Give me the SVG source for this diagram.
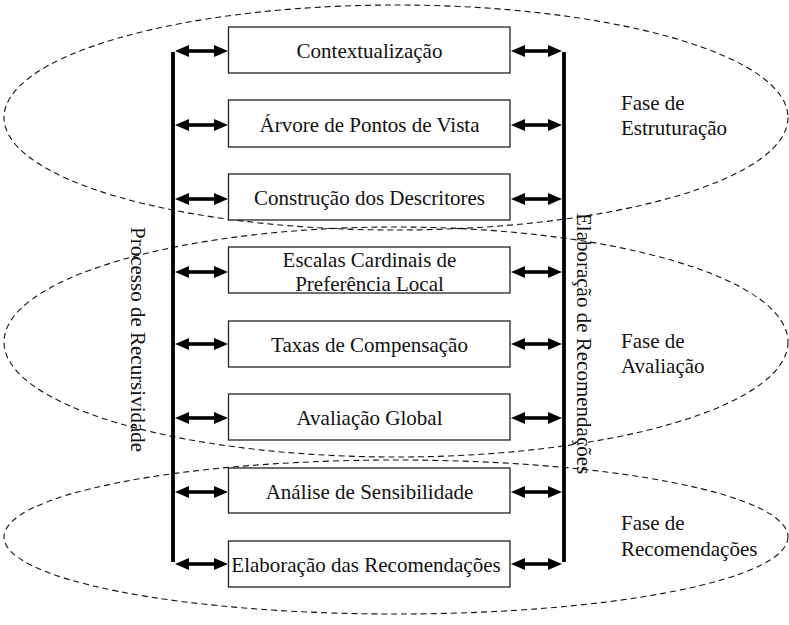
<svg xmlns="http://www.w3.org/2000/svg" width="789" height="625" viewBox="0 0 789 625">
  <style>
    .phase { fill: none; stroke: #111; stroke-width: 1.1; stroke-dasharray: 6 4; }
    .box { fill: #fff; stroke: #222; stroke-width: 1.3; }
    .txt { font-family: "Liberation Serif", "Times New Roman", serif; font-size: 21px; fill: #111; }
    .mid { text-anchor: middle; }
    .rail { stroke: #000; stroke-width: 3.8; }
    .arw { stroke: #000; stroke-width: 3.6; marker-start: url(#head); marker-end: url(#head); }
  </style>
  <defs>
    <marker id="head" markerUnits="userSpaceOnUse" markerWidth="15" markerHeight="14" viewBox="0 -7 15 14" refX="0" refY="0" orient="auto-start-reverse">
      <path d="M0,-6 L14,0 L0,6 Z" fill="#000"/>
    </marker>
  </defs>

  <!-- phase regions -->
  <g id="phases">
    <ellipse class="phase" cx="396" cy="117.5" rx="392" ry="112.5"/>
    <ellipse class="phase" cx="396" cy="342" rx="392" ry="115"/>
    <ellipse class="phase" cx="396" cy="537" rx="392" ry="77"/>
  </g>

  <!-- connectors: side rails and double-headed links -->
  <g id="connectors">
    <line class="rail" x1="173" y1="52" x2="173" y2="562"/>
    <line class="rail" x1="564" y1="52" x2="564" y2="562"/>
    <line class="arw" x1="189" y1="51" x2="214" y2="51"/>
    <line class="arw" x1="189" y1="125" x2="214" y2="125"/>
    <line class="arw" x1="189" y1="199" x2="214" y2="199"/>
    <line class="arw" x1="189" y1="272" x2="214" y2="272"/>
    <line class="arw" x1="189" y1="344" x2="214" y2="344"/>
    <line class="arw" x1="189" y1="418" x2="214" y2="418"/>
    <line class="arw" x1="189" y1="492" x2="214" y2="492"/>
    <line class="arw" x1="189" y1="564" x2="214" y2="564"/>
    <line class="arw" x1="525" y1="51" x2="548" y2="51"/>
    <line class="arw" x1="525" y1="125" x2="548" y2="125"/>
    <line class="arw" x1="525" y1="199" x2="548" y2="199"/>
    <line class="arw" x1="525" y1="272" x2="548" y2="272"/>
    <line class="arw" x1="525" y1="344" x2="548" y2="344"/>
    <line class="arw" x1="525" y1="418" x2="548" y2="418"/>
    <line class="arw" x1="525" y1="492" x2="548" y2="492"/>
    <line class="arw" x1="525" y1="564" x2="548" y2="564"/>
  </g>

  <!-- process steps -->
  <g id="contextualizacao">
    <rect class="box" x="228.5" y="27" width="281.5" height="46"/>
    <text class="txt mid" x="369.5" y="58">Contextualização</text>
  </g>
  <g id="arvore">
    <rect class="box" x="228.5" y="100" width="281.5" height="47"/>
    <text class="txt mid" x="369.5" y="131.5">Árvore de Pontos de Vista</text>
  </g>
  <g id="descritores">
    <rect class="box" x="228.5" y="174" width="281.5" height="46"/>
    <text class="txt mid" x="369.5" y="205">Construção dos Descritores</text>
  </g>
  <g id="escalas">
    <rect class="box" x="228.5" y="247" width="281.5" height="46"/>
    <text class="txt mid" x="369.5" y="267">Escalas Cardinais de</text>
    <text class="txt mid" x="369.5" y="291">Preferência Local</text>
  </g>
  <g id="taxas">
    <rect class="box" x="228.5" y="321" width="281.5" height="46"/>
    <text class="txt mid" x="369.5" y="352">Taxas de Compensação</text>
  </g>
  <g id="avaliacao-global">
    <rect class="box" x="228.5" y="394" width="281.5" height="46"/>
    <text class="txt mid" x="369.5" y="425">Avaliação Global</text>
  </g>
  <g id="sensibilidade">
    <rect class="box" x="228.5" y="468" width="281.5" height="45"/>
    <text class="txt mid" x="369.5" y="498.5">Análise de Sensibilidade</text>
  </g>
  <g id="recomendacoes">
    <rect class="box" x="228.5" y="541" width="281.5" height="46"/>
    <text class="txt mid" x="366" y="572">Elaboração das Recomendações</text>
  </g>

  <!-- rail labels -->
  <g id="recursividade">
    <text class="txt" transform="translate(131,227) rotate(90)">Processo de Recursividade</text>
  </g>
  <g id="elaboracao">
    <text class="txt" transform="translate(577,213) rotate(90)">Elaboração de Recomendações</text>
  </g>

  <!-- phase labels -->
  <g id="fase-estruturacao">
    <text class="txt" x="621" y="110">Fase de</text>
    <text class="txt" x="621" y="135">Estruturação</text>
  </g>
  <g id="fase-avaliacao">
    <text class="txt" x="621" y="348">Fase de</text>
    <text class="txt" x="621" y="373">Avaliação</text>
  </g>
  <g id="fase-recomendacoes">
    <text class="txt" x="621" y="530">Fase de</text>
    <text class="txt" x="621" y="556">Recomendações</text>
  </g>
</svg>
